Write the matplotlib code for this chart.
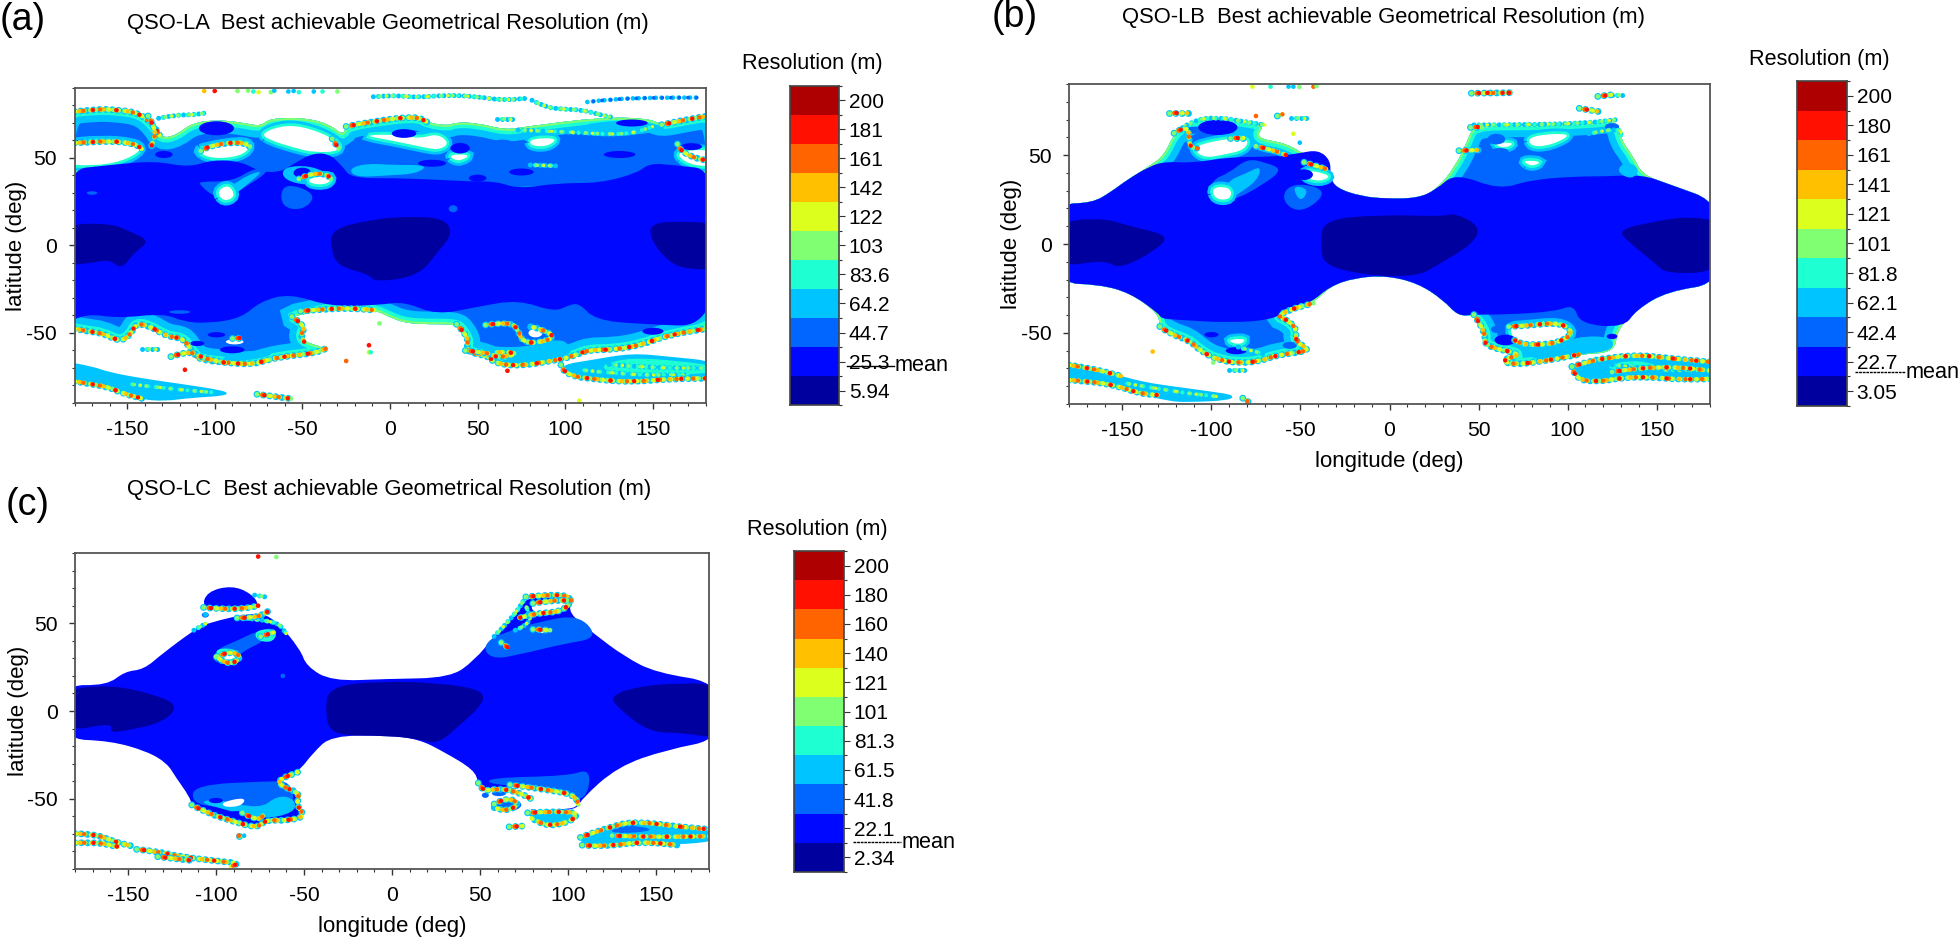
import itertools
import matplotlib
matplotlib.use('Agg')
import matplotlib.pyplot as plt
from matplotlib.patches import Ellipse, PathPatch
from matplotlib.path import Path

plt.rcParams['font.family'] = ['Liberation Sans', 'DejaVu Sans']
plt.rcParams['axes.unicode_minus'] = False

W, H = 1960, 938

# colour of each level, lowest first
level_colors = ['#00009f', '#0008ff', '#0066ff', '#00c4ff', '#1effd2', '#80ff72',
                '#dcff1e', '#ffc000', '#ff6400', '#ff1000', '#ae0000']

cb_labels_a = ['5.94', '25.3', '44.7', '64.2', '83.6', '103', '122', '142', '161', '181', '200']
cb_labels_b = ['3.05', '22.7', '42.4', '62.1', '81.8', '101', '121', '141', '161', '180', '200']
cb_labels_c = ['2.34', '22.1', '41.8', '61.5', '81.3', '101', '121', '140', '160', '180', '200']

# position of the mean on the colour bar, in bands from the bottom
mean_a = 1.35
mean_b = 1.15
mean_c = 1.02

# ---- panel (a), all points are (lon, lat) ----
a_cover_n = [(-180, 25), (-180, 75.6), (-169, 78), (-155, 77.5), (-143, 75.6), (-135, 69), (-130.5, 61.3),
             (-122, 63), (-113, 70), (-99, 71.8), (-85, 70.4), (-73.5, 68), (-69, 72.7), (-48, 73), (-34, 69),
             (-27, 63), (-25, 68), (-11, 70.8), (15, 74), (22, 70), (33.5, 68.5), (37, 70.4), (50, 70), (66, 66),
             (78, 68), (120, 73.3), (147.5, 72.7), (154.5, 69), (168, 71.8), (180, 75), (180, 25)]
a_cover_s = [(-180, -20), (-180, -46), (-173.5, -49), (-164, -50), (-154, -55), (-148, -51), (-145, -44.5),
             (-137, -46), (-127.5, -52), (-118, -53), (-114, -59), (-112, -61.5), (-109, -65), (-94, -67),
             (-78, -68), (-69, -65), (-57, -63), (-43, -61.5), (-36, -58.7), (-49, -55), (-51, -51), (-48, -46),
             (-52, -42.5), (-56, -40.6), (-46, -38.7), (-34, -36), (-20, -36), (-8, -37), (1, -41.6), (10, -44.5),
             (22, -45), (38, -45), (42, -49), (45, -55), (43, -60.6), (57, -63.4), (59, -67), (73, -69), (92, -66),
             (104, -63.5), (113, -59.6), (127, -59.6), (143, -57), (159, -51), (180, -46.5), (180, -20)]
a_blue = [(-180, 43), (-160, 46), (-134, 48.4), (-115, 44.6), (-101, 49), (-85, 48), (-74, 42), (-62, 42), (-53, 48),
          (-43, 53), (-34, 52), (-27, 45), (-22, 38.5), (3, 38.5), (27, 37.6), (45, 36.6), (61, 36.6), (73, 32.4),
          (96, 35.7), (120, 35.7), (141, 41.4), (148, 47), (161.5, 46), (180, 43),
          (180, -46.4), (143, -45), (117, -42.5), (108, -33), (102, -34), (94, -38), (73, -31), (50, -35),
          (26.5, -39.7), (8, -32), (-6, -34), (-34, -35), (-57, -27.4), (-74, -32), (-85, -41.6), (-104, -44.5),
          (-118, -43.5), (-129, -38.8), (-155, -41.6), (-173.5, -38.8), (-180, -46)]
a_holes = [
    [(-180, 58), (-164, 60), (-146, 58.5), (-141, 54.7), (-153, 48), (-169, 45.5), (-180, 46.5)],
    [(-106, 56), (-85, 59.5), (-79, 57), (-85, 51), (-101.5, 49.5), (-110, 53.7)],
    [(-74, 64), (-60, 69), (-45.6, 67), (-30, 60), (-28, 54), (-43, 53), (-55, 56), (-68, 60)],
    [(-16, 63), (1, 60), (19.5, 56), (28, 54.6), (34, 58.5), (27, 64), (17, 61), (3, 63.5)],
    [(80, 61), (96, 61.5), (90, 56.5), (80, 57)],
    [(162, 54), (180, 55), (180, 45), (170, 46)],
    [(34, 52), (46, 52), (41, 48.5), (36, 49)],
    [(-47, 38.5), (-33, 40), (-35, 35), (-45, 35)],
    [(-99, 31), (-92, 35), (-88, 28), (-95, 25)],
]
a_patch_mid = [(-108.5, 36.6), (-90, 36.6), (-78, 44), (-69, 44), (-73.5, 39), (-83, 33.4), (-92, 26.6), (-101.5, 28.5), (-108.5, 34.7)]
a_patch_mid2 = [(-62, 34), (-52, 34), (-42, 28), (-50, 20), (-62, 22)]
a_patch_cyan = [(-23.5, 44), (-13, 47), (1, 46), (22, 46), (15, 41), (-1.4, 40), (-20, 39)]
a_patch_cyan2 = [(-100, 34), (-90, 34), (-82, 40), (-72, 43), (-80, 36), (-90, 28), (-96, 28)]
a_patch_cyan3 = [(104, 68), (130, 72), (150, 70), (160, 66), (130, 62), (110, 63)]
a_patch_cyan4 = [(-62, 44), (-50, 46), (-38, 43), (-32, 37), (-45, 34), (-60, 37)]
a_band_s1 = [(50, -57), (75, -58.7), (96, -53), (103, -57), (103, -63.5), (73, -69), (59, -67), (73, -63.5)]
a_band_s2 = [(-97, -63.5), (-69, -58.7), (-66.5, -63.5), (-93, -67)]
a_strip_w = [(-180, -66), (-170, -69), (-160, -72.5), (-141, -76), (-120, -79), (-100, -82), (-92, -84), (-95, -86),
             (-113, -87), (-129, -89), (-141, -88), (-152, -85), (-164, -80), (-175, -77.5), (-180, -77)]
a_strip_e = [(97.5, -68.2), (115, -65.4), (138, -61.5), (159, -63.5), (180, -66.3), (180, -75.8), (159, -76.2),
             (138, -78), (120, -76.8), (99, -74)]
a_strip_e_in = [(120, -68), (138, -64), (165, -66), (180, -69), (180, -73), (150, -74), (125, -73)]
a_warm = [
    [(-180, 75.6), (-169, 78), (-155, 77.5), (-143, 75.6), (-135, 69), (-130.5, 61.3)],
    [(-138, 74), (-133, 66), (-136, 57)],
    [(-180, 58), (-164, 60), (-146, 58.5), (-141, 54.7)],
    [(-108, 54), (-104, 57), (-85, 59.5), (-79, 56)],
    [(-25, 68), (-11, 70.8), (15, 74), (22, 70)],
    [(-33, 61), (-29, 55)],
    [(155, 69), (168, 71.8), (180, 75)],
    [(164, 58), (166, 52), (180, 47)],
    [(-180, -46), (-173.5, -49), (-164, -50), (-154, -55), (-148, -51), (-145, -44.5), (-137, -46), (-127.5, -52),
     (-118, -53), (-114, -59), (-112, -61.5), (-109, -65), (-94, -67), (-78, -68), (-69, -65), (-57, -63), (-43, -61.5), (-36, -58.7)],
    [(-125, -63.5), (-114, -60), (-108, -64), (-94, -67)],
    [(-51, -37.5), (-34, -36), (-20, -36), (-8, -37)],
    [(-56, -40.6), (-48, -46), (-51, -51), (-49, -55)],
    [(38, -45), (42, -49), (45, -55), (43, -60.6), (57, -63.4), (59, -67), (73, -69), (92, -66), (104, -63.5), (113, -59.6), (127, -59.6), (143, -57), (159, -51), (180, -46.5)],
    [(54.5, -45.4), (68.4, -43.5), (73, -48), (75.4, -55), (84.7, -55.8), (95, -52), (84.7, -47.3), (80, -46.4)],
    [(43, -60), (58, -61.5), (60, -64), (72, -62.5), (70, -61), (60, -61)],
    [(97.5, -68.2), (99, -74), (120, -76.8), (138, -78), (159, -76.2), (180, -75.8)],
    [(-180, -76.8), (-164, -79.5), (-152.6, -84.5), (-141, -87.5)],
    [(-75.9, -85), (-56, -87.6)],
    [(-52, 38), (-46, 41), (-36, 41), (-33, 37)],
    [(-90, -53), (-84, -53)],
]
a_cool = [
    [(-132, 72.7), (-122.5, 74.6), (-113, 74.6), (-106, 75.6)],
    [(-9.5, 85), (-3.7, 85.4), (5.6, 85.6), (15, 84.6), (33.5, 86), (50, 85), (64, 83), (77, 84)],
    [(81, 83), (88, 79.4), (96, 78), (110, 77.5), (120, 74.6), (126.6, 73.3)],
    [(61, 72), (72, 72)],
    [(-141.5, -59.3), (-131, -59.3)],
    [(73, 66), (100, 65), (135, 63), (150, 68)],
    [(80, 46), (95, 45.5)],
    [(125, -68), (150, -70), (178, -70)],
    [(108, -71), (135, -74), (170, -74)],
    [(-150, -79), (-125, -82), (-100, -84)],
]
a_arc_blue = [(112.6, 82), (126.6, 83.7), (152, 84.5), (175.5, 84.5)]
a_spots_blue = [(-99, 67, 10, 4), (8, 64, 7, 2.5), (40, 55.6, 5.5, 3), (-176, 59, 4, 1.5), (172, 56.5, 6, 2),
                (138, 70, 9, 2), (-90, -59.6, 7, 2), (-99, -51, 5, 1.5), (-50, 41.5, 5, 3),
                (24, 47, 8, 2), (75, 42, 7, 2), (131, 52, 9, 2), (50, 38.5, 5, 2), (-129, 52, 5, 2),
                (-110, -56, 4, 1.5), (150, -49, 6, 2)]
a_spots_mid = [(-14, 53, 6, 3), (64, 58.5, 6, 2), (117, 57.5, 5, 2), (64, -54, 7, 3),
               (36, 21, 2.5, 2), (-170, 30, 3, 1), (-120, -38, 6, 1)]
a_spot_white = [(-88.6, -55, 5, 1.5), (83, -50, 4, 2.5), (66, -62, 5, 1)]
a_dots_lon = [-106, -100, -87, -81, -78, -75, -68, -66, -58, -55, -52, -43.5, -38.5, -30, -12, -12, -25, -6, -117, 67, 108, -11]
a_dots_lat = [88.3, 88.3, 88.3, 88.5, 88, 87.6, 87.6, 88.5, 88, 88.3, 87.6, 88, 88, 88, -57, -61, -66, -44.5, -71, -71.6, -88.7, -61]
a_dots_lev = [7, 9, 5, 5, 4, 6, 5, 3, 3, 3, 4, 3, 4, 5, 9, 6, 8, 5, 9, 9, 6, 4]
a_dark = [
    [(-180, 12), (-160, 12.8), (-148, 8), (-137, 2.5), (-146, -4), (-153, -13.6), (-160, -8), (-169, -9.8), (-180, -11.7)],
    [(-33.6, 9), (-12, 14.7), (9.3, 16.6), (30.7, 15.7), (36, 7), (27, -4), (16.4, -17.4), (-8.6, -21), (-12, -16.4), (-30, -11.7), (-33.6, -2)],
    [(148.6, 12.8), (166, 13.8), (180, 12.8), (180, -13.6), (170, -13.6), (159.3, -9.8), (148.6, 3.4)],
]

# ---- panel (b) ----
b_cover = [(-180, 22.7), (-167, 23), (-156, 29.6), (-147.5, 36), (-135, 43.6), (-126.4, 50), (-121, 62.4), (-110.6, 69.8),
           (-96.6, 71.3), (-82.5, 69), (-70, 67), (-75.5, 59.6), (-58, 56.7), (-47.4, 50), (-35, 45.5), (-33.4, 38), (-30, 31.5),
           (-15.8, 26.8), (-1.8, 25.5), (15.8, 25.8), (26.3, 30.5), (37, 43.6), (44, 58.6), (47.4, 67), (75.5, 67), (110.6, 68),
           (128, 70), (130, 58.6), (137, 49), (142, 39), (156, 34), (180, 22.7),
           (180, -22), (156, -26.6), (138.7, -37), (128, -48), (126.4, -61), (107, -62), (86, -66), (68.5, -68), (63, -65),
           (75.5, -62), (52.7, -57.5), (54.4, -50), (47.4, -39.7), (38.6, -40.6), (30, -31.3), (15.8, -22), (-1.8, -17.8),
           (-19.3, -19), (-33.4, -23.8), (-42.7, -33.3), (-56.7, -37), (-62.7, -40.8), (-59, -41.8), (-52, -47.4), (-53, -54.9), (-46, -58.6), (-47.4, -60.5),
           (-63, -62.4), (-73, -66), (-84.7, -67), (-96.4, -65.2), (-105.7, -60.5), (-112.7, -54), (-123, -50.8), (-129, -46.4),
           (-130, -38.8), (-145.8, -27.5), (-163, -22.8), (-180, -22)]
b_blue = [(-180, 22.7), (-167, 23), (-156, 29.6), (-147.5, 36), (-135, 43.6), (-126, 46.4), (-110.6, 45.5), (-89.6, 49),
          (-65, 49), (-51, 51), (-40, 53), (-33, 47), (-33.4, 38), (-30, 31.5), (-15.8, 26.8), (-1.8, 25.5), (15.8, 25.8), (26, 30.5),
          (37, 40), (61.5, 30.5), (79, 36), (103.6, 38), (121, 38), (142, 39), (156, 34), (180, 22.7),
          (180, -22), (156, -26.6), (138.7, -37), (131.7, -47), (107, -45), (103.6, -34), (93, -38), (65, -39.7), (47.4, -39.7),
          (38.6, -40.6), (30, -31.3), (15.8, -22), (-1.8, -17.8), (-19.3, -19), (-33.4, -23.8), (-44, -33), (-56, -36), (-65, -42.5),
          (-89.6, -44.4), (-121, -42.5), (-128, -42), (-130, -38.8), (-145.8, -27.5), (-163, -22.8), (-180, -22)]
b_holes = [
    [(-107, 56), (-89.4, 59.5), (-79, 59.5), (-81, 53), (-94, 50), (-104, 48.5), (-110, 52.9)],
    [(-47, 42), (-32, 38.5), (-39, 35), (-48, 37.5)],
    [(78, 61), (104, 62.5), (91, 55.5), (79, 54.7)],
    [(-100, 32), (-89, 32), (-89, 25), (-98, 25)],
    [(67, -46.5), (76.3, -46), (96, -44), (104, -50), (94, -56), (76.3, -57), (70, -54)],
    [(-92, -54), (-80, -53), (-84, -57)],
    [(74, 47), (86, 46.5), (80, 43.5)],
    [(58, 57), (71, 57), (64, 53.5)],
]
b_patch_mid = [(-100, 36), (-90, 40), (-80, 48), (-70, 46), (-60, 42), (-70, 34), (-88, 24), (-100, 26)]
b_patch_mid2 = [(-48, 34), (-36, 30), (-42, 22), (-52, 18), (-60, 24), (-58, 32)]
b_patch_mid3 = [(133, 47), (141, 42), (136, 36), (127, 41)]
b_patch_cyan = [(-92, 35), (-80, 40), (-72, 44), (-74, 36), (-85, 28), (-92, 24)]
b_patch_cyan2 = [(-55, 33), (-45, 31), (-50, 23)]
b_band_s1 = [(72, -58), (92, -58), (105, -52), (125, -52), (126, -60), (107, -62), (86, -66), (75.5, -62)]
b_strip_w = [(-180, -67), (-169, -69.5), (-150, -74.5), (-136, -78), (-122, -80), (-100, -83), (-87, -85), (-90, -88), (-112.7, -89),
             (-124, -88.5), (-140.7, -84), (-152, -80), (-169, -77), (-180, -76)]
b_strip_e = [(102.5, -69), (112, -66), (123, -64), (140, -62.4), (154, -64), (180, -67), (180, -75.5), (165, -76.4),
             (144, -74.6), (128, -75.5), (118.5, -77.4), (104, -76.4)]
b_strip_e_in = [(120, -68), (140, -65), (155, -70), (130, -73)]
b_warm = [
    [(-121, 62.3), (-112.7, 67.9), (-112.7, 54.7), (-108, 53.8)],
    [(-89.4, 59.4), (-81, 59.4)],
    [(-75, 55), (-66, 53), (-58, 50)],
    [(-48, 46), (-35, 42)],
    [(39, 52.5), (50.6, 52.9)],
    [(45, 66), (52, 66)],
    [(-129, -46.4), (-123, -50.8), (-112.7, -54), (-105.7, -60.5), (-96.4, -65.2), (-84.7, -67), (-73, -66), (-63, -62.4), (-47.4, -60.5), (-46, -58.6), (-53, -54.9), (-52, -47.4), (-59, -41.8), (-62.7, -40.8), (-56.7, -37), (-42.7, -33.3)],
    [(47.4, -39.7), (54.4, -50), (52.7, -57.5), (75.5, -62), (63, -65), (68.5, -68), (86, -66), (107, -62)],
    [(67, -46.5), (76.3, -46), (96, -44), (104, -50), (94, -56), (76.3, -57), (70, -54)],
    [(102.5, -69), (104, -76.4), (118.5, -77.4), (128, -75.5), (144, -74.6), (165, -76.4), (180, -75.5)],
    [(102.5, -69), (112, -66), (123, -64), (140, -62.4), (154, -64), (180, -67)],
    [(125, -72), (150, -68), (180, -72)],
    [(-180, -76), (-169, -77), (-152, -80), (-140.7, -84), (-130, -85)],
    [(-180, -67), (-169, -69.5), (-150, -74.5)],
    [(-124, 73.5), (-112.6, 73.5)],
    [(46, 84.8), (68, 85.1)],
    [(106.6, 76.3), (118, 74.4)],
    [(-63, 72), (-60, 73)],
    [(-82.4, -86.7), (-79, -89)],
    [(117, 83), (125, 84)],
]
b_cool = [
    [(-121, 62.4), (-110.6, 69.8), (-96.6, 71.3), (-82.5, 69), (-70, 67)],
    [(47.4, 67), (75.5, 67), (110.6, 68), (128, 70)],
    [(-55.5, 70.7), (-45, 70.7)],
    [(112, 62), (130, 66), (130, 60)],
    [(-85, -58), (-70, -62)],
    [(-150, -78), (-122, -83), (-95, -86)],
    [(125, 84), (132, 84)],
    [(-90, -71), (-80, -71)],
    [(125, -68), (150, -71), (178, -71)],
]
b_spots_blue = [(-96.4, 65.6, 11, 4.3), (-48, 39, 5, 3), (65, -54, 6, 3), (-86, -60, 6, 2), (-100, -51, 4, 1.5), (125, -52, 3, 1.5)]
b_spots_mid = [(-56, -57, 4, 2), (60, 59, 5, 3), (-110, 64, 5, 2), (125, 66, 4, 2), (60, -48, 3, 2), (62, 52, 5, 2)]
b_dots_lon = [-77, -66.8, -56.7, -54, -50.6, -42.7, -41, -54, -50.4, -133, -99, -75, 55, 67]
b_dots_lat = [88.5, 88.5, 88.5, 88.5, 88.3, 88.5, 88.8, 62, 57, -60.5, -66.7, 72, 85, 85]
b_dots_lev = [6, 4, 3, 3, 5, 8, 5, 6, 3, 7, 5, 8, 9, 9]
b_dark = [
    [(-180, 12.7), (-160, 14.6), (-146, 10), (-125, 5.2), (-128, -1.3), (-151, -14.4), (-160, -8.8), (-180, -13.5)],
    [(-37, 13.7), (-5, 16.5), (30, 15.5), (37, 17.4), (51, 10), (47.4, 0.5), (26, -12.5), (16, -18), (-9, -18), (-37, -12.5), (-38.6, 0.5)],
    [(128, 8), (149, 12.7), (167, 15.5), (180, 12.7), (180, -15.3), (156, -17), (149, -10.7), (135, 0.5)],
]

# ---- panel (c) ----
c_cap = [(-108, 59), (-105, 68), (-91, 71.5), (-80, 67), (-75, 60), (-83, 57.5), (-97, 57)]
c_cover = [(-180, 15), (-162, 14.5), (-151.6, 22.6), (-141, 23.6), (-130, 33), (-112.5, 46), (-105.4, 50), (-77, 56.6), (-66, 52),
           (-52, 35), (-48.6, 25.5), (-34.4, 17), (-2.5, 18.3), (33, 18.9), (47, 29), (58, 42.5), (69, 53.7), (76, 65), (97, 67),
           (102.6, 63), (100, 56), (114.7, 44), (132, 31), (150, 21.7), (180, 16),
           (180, -16), (156, -22), (128, -31.7), (107, -50.7), (105, -56.4), (77, -58), (79, -50), (71, -46), (60, -44), (51.4, -46),
           (49, -41), (46.7, -33.6), (29, -23), (15, -16), (-2.5, -14), (-34.4, -14), (-45, -24), (-53, -34.6), (-65, -39.3), (-62.5, -43),
           (-52, -46.9), (-54.5, -53.5), (-49, -60.2), (-60, -62.5), (-71.9, -62), (-76.5, -66.9), (-92.8, -62), (-104.4, -58.3),
           (-113.7, -53.5), (-115, -48.8), (-123, -37.4), (-127.7, -29.8), (-139, -23), (-160, -17), (-180, -16)]
c_holes = [
    [(78, 62), (104, 64), (98, 55.5), (81, 54.7)],
    [(-101, 31), (-86, 33), (-92, 28.5)],
    [(78, 47), (92, 46.5), (86, 43.5)],
    [(-97, -52), (-83, -49), (-85, -54), (-95, -55)],
    [(58, -46), (67, -42), (90, -45), (104, -48), (106, -54), (100, -56), (78, -57), (75, -52), (66, -47)],
]
c_patch_mid = [(55, 41), (68, 46), (83, 50.7), (106, 55), (117.5, 41.7), (96.5, 38), (80, 34), (73, 32.5), (59, 29.5), (52, 34)]
c_patch_mid2 = [(-100, 35), (-88, 40), (-78, 45), (-66, 48), (-72, 40), (-85, 34), (-92, 26), (-102, 28)]
c_patch_cyan = [(-102, 35), (-90, 36), (-85, 31), (-94, 26)]
c_patch_cyan2 = [(-78, 46), (-65, 47), (-67, 39), (-77, 40)]
c_patch_mid3 = [(-112, -42), (-70, -40), (-58, -40), (-55, -52), (-62, -58), (-100, -55), (-114, -52)]
c_patch_mid4 = [(55, -38), (100, -37), (112, -33), (112, -45), (106, -52), (95, -44), (55, -42)]
c_patch_cyan3 = [(-110, -52), (-95, -56), (-75, -62), (-55, -58), (-55, -50), (-65, -48), (-75, -56), (-100, -50)]
c_band = [(77, -58), (105, -56.4), (104, -62), (89, -66), (79, -61)]
c_strip_e = [(107, -72), (126, -65), (140, -63), (163, -66), (180, -68), (180, -73.5), (163, -76.4), (142, -74.4), (119, -77.3), (108, -76.4)]
c_strip_e_in = [(122, -68), (138, -65), (150, -68), (130, -70)]
c_warm = [
    [(-107, 59), (-97, 58), (-83, 58.5), (-76, 60)],
    [(-88, 53), (-77, 53), (-70, 57)],
    [(-99, 31), (-93, 34), (-86, 32), (-88, 28), (-94, 27), (-100, 31)],
    [(-74.6, 42.4), (-66.4, 45)],
    [(76, 65), (97, 67), (102.6, 63), (96.5, 56.6), (82.5, 55.7), (72, 53)],
    [(80, 61.3), (90, 63), (102.6, 63)],
    [(80, 46.5), (90, 46)],
    [(62, 39), (66, 36)],
    [(-113.7, -53.5), (-104.4, -58.3), (-92.8, -62), (-76.5, -66.9), (-71.9, -62), (-60, -62.5), (-49, -60.2), (-54.5, -53.5), (-52, -46.9), (-62.5, -43), (-65, -39.3), (-53, -34.6)],
    [(-85, -58), (-76, -63), (-72, -58)],
    [(49, -41), (51.4, -46), (60, -44), (71, -46), (79, -50)],
    [(67, -42), (90, -45), (104, -48), (106, -54)],
    [(77, -58), (105, -56.4), (104, -62), (89, -66), (79, -61)],
    [(58, -53), (65, -49), (73, -53), (65, -57), (58, -55)],
    [(66.5, -66), (75, -65.5)],
    [(107, -72), (126, -65), (140, -63), (163, -66), (180, -68)],
    [(108, -76.4), (119, -77.3), (142, -74.4), (163, -76.4)],
    [(125, -71), (150, -72), (180, -71), (180, -73.5)],
    [(-180, -69.7), (-169.5, -69.7), (-158, -74.4), (-148.6, -76.7)],
    [(-180, -75.4), (-169.5, -74.4), (-155.6, -77.3)],
    [(-145, -78.8), (-133, -80), (-120.7, -83), (-95, -85.9), (-87, -86.8), (-91.6, -88.7)],
    [(-133, -83), (-115, -85)],
    [(-87, -71), (-84, -71)],
]
c_cool = [
    [(-112.5, 46), (-105.4, 50)],
    [(-88, 53), (-66, 52), (-60, 44)],
    [(-106, 55), (-104, 55)],
    [(-78, 66), (-72, 65)],
    [(58, 42.5), (69, 53.7), (76, 65)],
    [(70, 46), (80, 50), (76, 60)],
]
c_spots_mid = [(65.4, -53.5, 8, 3.5), (60.7, -47, 4, 1.5), (132, -66, 7, 1.5), (-106, 54.7, 2, 1.5), (53, -48, 2, 1.5)]
c_spots_blue = [(-100, -51, 4, 1.5), (-88, -59, 6, 2)]
c_dots_lon = [-76, -65.7, -62, -87, -84]
c_dots_lat = [88, 87.7, 20, -71, -71]
c_dots_lev = [9, 5, 2, 8, 3]
c_dark = [
    [(-180, 12.3), (-158.7, 15), (-132, 8.5), (-121.4, 2.8), (-130, -6.6), (-151.6, -11.3), (-160, -12.3), (-158.7, -6.6), (-180, -12.3)],
    [(-36, 14), (-6, 17), (26, 16), (50.8, 12.3), (52.5, 4.7), (38, -8.5), (26, -18.9), (15, -16), (-2.5, -14), (-34.4, -14), (-38, -1)],
    [(123.5, 8.5), (139.5, 14), (164.4, 16), (180, 15), (180, -16), (164.4, -12.3), (146.6, -12.3), (129, 1)],
]

order = itertools.count(2)


def curve(pts, closed):
    # rounded outline through the read points, shapes on the map edge run past the frame
    pts = [(p[0] * 1.04 if abs(p[0]) >= 180 else p[0], p[1]) for p in pts]
    if closed:
        last = pts[-1]
        start = ((last[0] + pts[0][0]) / 2, (last[1] + pts[0][1]) / 2)
        verts = [start]
        codes = [Path.MOVETO]
        for a, b in zip(pts, pts[1:] + pts[:1]):
            verts += [a, ((a[0] + b[0]) / 2, (a[1] + b[1]) / 2)]
            codes += [Path.CURVE3, Path.CURVE3]
        return Path(verts, codes)
    verts = [pts[0]]
    codes = [Path.MOVETO]
    for a, b in zip(pts[1:-1], pts[2:]):
        verts += [a, ((a[0] + b[0]) / 2, (a[1] + b[1]) / 2)]
        codes += [Path.CURVE3, Path.CURVE3]
    verts.append(pts[-1])
    codes.append(Path.LINETO)
    return Path(verts, codes)


def fill(ax, pts, lev=None, rims=()):
    color = 'white' if lev is None else level_colors[lev]
    patch = PathPatch(curve(pts, True), fc=color, ec='none', lw=0, zorder=next(order))
    ax.add_patch(patch)
    # bands that stay inside the shape
    for rim_lev, rim_lw in rims:
        rim = PathPatch(curve(pts, True), fc='none', ec=level_colors[rim_lev], lw=rim_lw, zorder=next(order))
        ax.add_patch(rim)
        rim.set_clip_path(patch)
    return patch


def halo(ax, pts):
    path = curve(pts, True)
    ax.add_patch(PathPatch(path, fc='none', ec=level_colors[3], lw=8, zorder=next(order)))
    ax.add_patch(PathPatch(path, fc='none', ec=level_colors[4], lw=4, zorder=next(order)))


def beads(ax, pts, lev, lw, gap, offset=0):
    ax.add_patch(PathPatch(curve(pts, False), fc='none', ec=level_colors[lev], lw=lw, capstyle='round',
                           ls=(offset, (0.01, gap)), zorder=next(order)))


def cool(ax, pts):
    beads(ax, pts, 3, 3.6, 1.0)
    beads(ax, pts, 4, 3, 1.9, 0.7)
    beads(ax, pts, 5, 2.8, 3.1, 1.3)
    beads(ax, pts, 6, 2.4, 6.1, 2.1)


def warm(ax, pts):
    beads(ax, pts, 3, 5, 0.9)
    beads(ax, pts, 5, 3.4, 1.2)
    beads(ax, pts, 6, 3.2, 1.9, 0.8)
    beads(ax, pts, 7, 3.2, 2.7, 1.4)
    beads(ax, pts, 8, 3.2, 3.7, 2.5)
    beads(ax, pts, 9, 3.2, 5.3, 3.6)


def spots(ax, items, lev):
    for lon, lat, rx, ry in items:
        ax.add_patch(Ellipse((lon, lat), 2 * rx, 2 * ry, color='white' if lev is None else level_colors[lev],
                             lw=0, zorder=next(order)))


def dots(ax, lon, lat, lev):
    ax.scatter(lon, lat, c=[level_colors[i] for i in lev], s=11, lw=0, zorder=next(order))


def map_axes(fig, x0, x1, y0, y1, title, tx, ty, ylabel_x, xlabel_y):
    ax = fig.add_axes([x0 / W, 1 - y1 / H, (x1 - x0) / W, (y1 - y0) / H])
    ax.set_xlim(-180, 180)
    ax.set_ylim(-90, 90)
    ax.set_xticks([-150, -100, -50, 0, 50, 100, 150])
    ax.set_yticks([-50, 0, 50])
    ax.set_xticks(range(-180, 181, 10), minor=True)
    ax.set_yticks(range(-90, 91, 10), minor=True)
    ax.tick_params(which='major', length=4.5, width=1, labelsize=15.2, color='#333333', pad=8)
    ax.tick_params(which='minor', length=2.5, width=0.8, color='#333333')
    for s in ax.spines.values():
        s.set_color('#555555')
        s.set_linewidth(1.3)
        s.set_zorder(5000)
    ax.set_ylabel('latitude (deg)', fontsize=16, va='center')
    ax.yaxis.set_label_coords((ylabel_x - x0) / (x1 - x0), 0.5)
    if xlabel_y:
        ax.set_xlabel('longitude (deg)', fontsize=16, va='center')
        ax.xaxis.set_label_coords(0.5, -(xlabel_y - y1) / (y1 - y0))
    fig.text(tx / W, 1 - ty / H, title, fontsize=15.8, ha='left', va='center')
    return ax


def color_bar(fig, x0, x1, y0, y1, labels, mean, title, title_x, title_y, line_x0, line_x1, dashed):
    cax = fig.add_axes([x0 / W, 1 - y1 / H, (x1 - x0) / W, (y1 - y0) / H])
    for i in range(len(labels)):
        cax.bar(0, 1, bottom=i, width=1, color=level_colors[i], lw=0)
    cax.set_xlim(-0.5, 0.5)
    cax.set_ylim(0, len(labels))
    cax.set_xticks([])
    cax.yaxis.tick_right()
    cax.set_yticks([i + 0.5 for i in range(len(labels))])
    cax.set_yticklabels(labels)
    cax.set_yticks(range(len(labels) + 1), minor=True)
    cax.tick_params(which='major', length=4, width=0.8, labelsize=15, pad=3, color='#333333')
    cax.tick_params(which='minor', length=2, width=0.8, color='#333333')
    for s in cax.spines.values():
        s.set_color('#444444')
        s.set_linewidth(1.2)
    trans = cax.get_yaxis_transform()
    cax.plot([(line_x0 - x0) / (x1 - x0), (line_x1 - x0) / (x1 - x0)], [mean, mean], color='black', lw=1,
             ls=(0, (2, 0.6)) if dashed else '-', transform=trans, clip_on=False)
    cax.text((line_x1 + 1 - x0) / (x1 - x0), mean, 'mean', fontsize=15.6, va='center', ha='left', transform=trans)
    fig.text(title_x / W, 1 - title_y / H, title, fontsize=15.6, ha='center', va='center')


fig = plt.figure(figsize=(W / 100, H / 100), dpi=100)

# ---------- (a) ----------
ax1 = map_axes(fig, 74.5, 705.5, 88, 403, 'QSO-LA  Best achievable Geometrical Resolution (m)', 127, 24, 17, None)
cover_rim = [(3, 18), (4, 8), (5, 3)]
fill(ax1, a_cover_n, 2, cover_rim)
fill(ax1, a_cover_s, 2, cover_rim)
for pts in a_holes:
    halo(ax1, pts)
    fill(ax1, pts)
fill(ax1, a_patch_cyan3, 3)
fill(ax1, a_band_s1, 3)
fill(ax1, a_band_s2, 3)
fill(ax1, a_blue, 1)
fill(ax1, a_patch_mid, 2)
fill(ax1, a_patch_mid2, 2)
fill(ax1, a_patch_cyan2, 3)
fill(ax1, a_patch_cyan, 3)
fill(ax1, a_patch_cyan4, 3)
for pts in a_holes[7:]:
    halo(ax1, pts)
    fill(ax1, pts)
fill(ax1, a_strip_w, 3)
fill(ax1, a_strip_e, 3)
fill(ax1, a_strip_e_in, 4)
for pts in a_cool:
    cool(ax1, pts)
beads(ax1, a_arc_blue, 3, 3.4, 1.2)
beads(ax1, a_arc_blue, 2, 2.8, 2.2, 0.6)
spots(ax1, a_spots_mid, 2)
spots(ax1, a_spots_blue, 1)
spots(ax1, a_spot_white, None)
for pts in a_warm:
    warm(ax1, pts)
for pts in a_dark:
    fill(ax1, pts, 0)
dots(ax1, a_dots_lon, a_dots_lat, a_dots_lev)

# ---------- (b) ----------
ax2 = map_axes(fig, 1069, 1710, 84, 404, 'QSO-LB  Best achievable Geometrical Resolution (m)', 1122, 18, 1011, 462)
fill(ax2, b_cover, 2, cover_rim)
for pts in b_holes[:1] + b_holes[2:3] + b_holes[4:5]:
    halo(ax2, pts)
    fill(ax2, pts)
fill(ax2, b_band_s1, 3)
fill(ax2, b_blue, 1)
fill(ax2, b_patch_mid, 2)
fill(ax2, b_patch_mid2, 2)
fill(ax2, b_patch_mid3, 3)
fill(ax2, b_patch_cyan, 3)
fill(ax2, b_patch_cyan2, 3)
for pts in b_holes[1:2] + b_holes[3:4] + b_holes[5:]:
    halo(ax2, pts)
    fill(ax2, pts)
fill(ax2, b_strip_w, 3)
fill(ax2, b_strip_e, 3)
fill(ax2, b_strip_e_in, 4)
spots(ax2, b_spots_mid, 2)
spots(ax2, b_spots_blue, 1)
for pts in b_cool:
    cool(ax2, pts)
for pts in b_warm:
    warm(ax2, pts)
for pts in b_dark:
    fill(ax2, pts, 0)
dots(ax2, b_dots_lon, b_dots_lat, b_dots_lev)

# ---------- (c) ----------
ax3 = map_axes(fig, 75, 709, 553, 869, 'QSO-LC  Best achievable Geometrical Resolution (m)', 127, 489, 18, 926)
fill(ax3, c_cap, 1)
fill(ax3, c_cover, 1)
fill(ax3, c_patch_mid, 2)
fill(ax3, c_patch_mid2, 2)
fill(ax3, c_patch_mid3, 2)
fill(ax3, c_patch_mid4, 2)
fill(ax3, c_patch_cyan3, 3)
fill(ax3, c_patch_cyan, 4)
fill(ax3, c_patch_cyan2, 4)
fill(ax3, c_band, 3)
fill(ax3, c_strip_e, 3)
fill(ax3, c_strip_e_in, 2)
for pts in c_holes:
    fill(ax3, pts)
spots(ax3, c_spots_mid, 2)
spots(ax3, c_spots_blue, 1)
for pts in c_cool:
    cool(ax3, pts)
for pts in c_warm:
    warm(ax3, pts)
for pts in c_dark:
    fill(ax3, pts, 0)
dots(ax3, c_dots_lon, c_dots_lat, c_dots_lev)

# ---------- colour bars ----------
color_bar(fig, 790, 839, 86, 405, cb_labels_a, mean_a, 'Resolution (m)', 812.5, 63, 847, 894, False)
color_bar(fig, 1797, 1847, 81, 406, cb_labels_b, mean_b, 'Resolution (m)', 1819.5, 59, 1855, 1905, True)
color_bar(fig, 794, 844, 551, 872, cb_labels_c, mean_c, 'Resolution (m)', 817, 529, 853, 901, True)

# panel letters
fig.text(0 / W, 1 - 20 / H, '(a)', fontsize=27, ha='left', va='center')
fig.text(992 / W, 1 - 17 / H, '(b)', fontsize=27, ha='left', va='center')
fig.text(6 / W, 1 - 505 / H, '(c)', fontsize=27, ha='left', va='center')

fig.savefig('out.png', dpi=100)
